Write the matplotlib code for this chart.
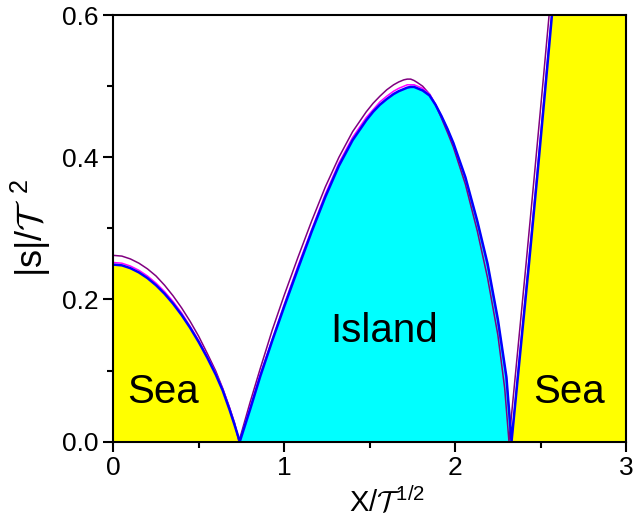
import matplotlib
matplotlib.use("Agg")
from matplotlib import pyplot as plt
from matplotlib.ticker import MultipleLocator

plt.rcParams['font.family'] = ['Liberation Sans', 'DejaVu Sans']
plt.rcParams['mathtext.fontset'] = 'custom'
plt.rcParams['mathtext.rm'] = 'Liberation Sans'
plt.rcParams['mathtext.cal'] = 'cmsy10'
plt.rcParams['mathtext.default'] = 'regular'

# curva azul (borde de las regiones)
x_azul = [0.00, 0.05, 0.10, 0.15, 0.20, 0.25, 0.30, 0.35, 0.40, 0.45, 0.50,
          0.55, 0.60, 0.64, 0.68, 0.71, 0.74,
          0.80, 0.86, 0.93, 1.00, 1.08, 1.16, 1.24, 1.32, 1.40, 1.48, 1.52,
          1.56, 1.60, 1.64, 1.67, 1.70, 1.72, 1.74, 1.76, 1.78, 1.81, 1.85,
          1.885, 1.92, 1.955, 1.99, 2.06, 2.13, 2.19, 2.25, 2.30, 2.33,
          2.38, 2.43, 2.48, 2.53, 2.58]
y_azul = [0.249, 0.248, 0.244, 0.238, 0.230, 0.220, 0.208, 0.194, 0.178, 0.160, 0.140,
          0.118, 0.094, 0.072, 0.045, 0.023, 0.0,
          0.045, 0.092, 0.142, 0.190, 0.243, 0.295, 0.344, 0.388, 0.424, 0.452, 0.464,
          0.474, 0.482, 0.489, 0.493, 0.496, 0.498, 0.499, 0.499, 0.497, 0.494, 0.487,
          0.474, 0.458, 0.440, 0.420, 0.372, 0.310, 0.250, 0.172, 0.091, 0.0,
          0.123, 0.245, 0.372, 0.503, 0.636]

# curva magenta (casi encima de la azul)
y_magenta = [0.252, 0.251, 0.247, 0.241, 0.233, 0.223, 0.211, 0.197, 0.181, 0.162, 0.142,
             0.120, 0.096, 0.074, 0.047, 0.024, 0.0,
             0.048, 0.095, 0.144, 0.193, 0.247, 0.298, 0.348, 0.392, 0.428, 0.456, 0.467,
             0.478, 0.486, 0.493, 0.497, 0.500, 0.502, 0.502, 0.502, 0.500, 0.497, 0.489,
             0.475, 0.458, 0.440, 0.419, 0.371, 0.309, 0.248, 0.170, 0.089, 0.0,
             0.128, 0.251, 0.378, 0.509, 0.642]

# curva violeta (la de afuera)
x_violeta = [0.00, 0.05, 0.10, 0.15, 0.20, 0.25, 0.30, 0.35, 0.40, 0.45, 0.50,
             0.55, 0.60, 0.64, 0.68, 0.71, 0.735,
             0.80, 0.86, 0.93, 1.00, 1.08, 1.16, 1.24, 1.32, 1.40, 1.48, 1.52,
             1.56, 1.60, 1.64, 1.67, 1.70, 1.72, 1.74, 1.76, 1.78, 1.81, 1.85,
             1.885, 1.92, 1.955, 1.99, 2.06, 2.13, 2.19, 2.25, 2.29, 2.315,
             2.365, 2.415, 2.465, 2.515, 2.565]
y_violeta = [0.262, 0.261, 0.257, 0.251, 0.243, 0.233, 0.220, 0.205, 0.188, 0.169, 0.148,
             0.124, 0.099, 0.075, 0.048, 0.026, 0.0,
             0.055, 0.103, 0.157, 0.206, 0.259, 0.310, 0.358, 0.400, 0.436, 0.464, 0.476,
             0.486, 0.495, 0.502, 0.506, 0.509, 0.510, 0.510, 0.508, 0.505, 0.500, 0.489,
             0.474, 0.455, 0.435, 0.414, 0.362, 0.296, 0.230, 0.150, 0.075, 0.0,
             0.125, 0.250, 0.378, 0.508, 0.640]

cero1 = x_azul.index(0.74)
cero2 = x_azul.index(2.33)

fig = plt.figure(figsize=(6.33, 5.22), dpi=100)
ax = fig.add_axes([0.179, 0.154, 0.81, 0.817])

# regiones Sea / Island
ax.fill_between(x_azul[:cero1 + 1], y_azul[:cero1 + 1], 0, color='#FFFF00', lw=0)
ax.fill_between(x_azul[cero1:cero2 + 1], y_azul[cero1:cero2 + 1], 0, color='#00FFFF', lw=0)
ax.fill_between(x_azul[cero2:], y_azul[cero2:], 0, color='#FFFF00', lw=0)
ax.axvspan(x_azul[-1], 3, color='#FFFF00', lw=0)

ax.plot(x_violeta, y_violeta, color='#800080', lw=1.1)
ax.plot(x_azul, y_magenta, color='#FF00FF', lw=1.1)
ax.plot(x_azul, y_azul, color='#0000FF', lw=1.8)

ax.text(0.292, 0.054, 'Sea', fontsize=29, ha='center', va='baseline')
ax.text(1.582, 0.140, 'Island', fontsize=29, ha='center', va='baseline')
ax.text(2.664, 0.054, 'Sea', fontsize=29, ha='center', va='baseline')

ax.set_xlim(0, 3)
ax.set_ylim(0, 0.6)
ax.xaxis.set_major_locator(MultipleLocator(1))
ax.xaxis.set_minor_locator(MultipleLocator(0.5))
ax.yaxis.set_major_locator(MultipleLocator(0.2))
ax.yaxis.set_minor_locator(MultipleLocator(0.1))
ax.yaxis.set_major_formatter(plt.FormatStrFormatter('%.1f'))
ax.tick_params(which='major', direction='out', length=7, width=1.5, labelsize=19)
ax.tick_params(which='minor', direction='out', length=4, width=1.5)
for s in ax.spines.values():
    s.set_linewidth(1.5)

ax.set_xlabel(r'X/$\mathcal{T}^{\,1/2}$', fontsize=21)
ax.set_ylabel(r'|s|/$\mathcal{T}^{\ \ 2}$', fontsize=26)
ax.xaxis.set_label_coords(0.534, -0.102)
ax.yaxis.set_label_coords(-0.118, 0.5)

fig.savefig('out.png')
